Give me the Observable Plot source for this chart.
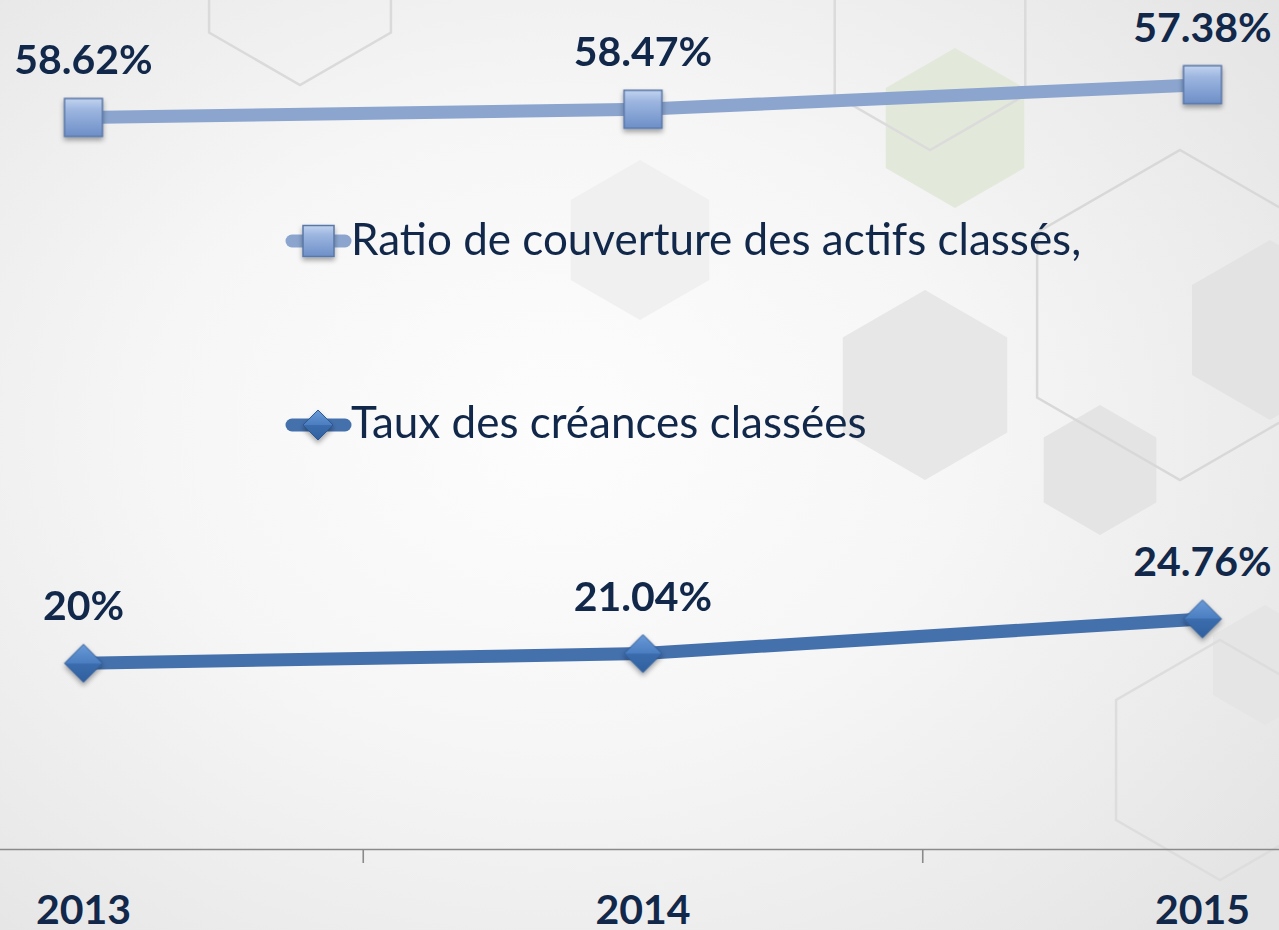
<!DOCTYPE html>
<html>
<head>
<meta charset="utf-8">
<script src="https://cdn.jsdelivr.net/npm/d3@7"></script>
<script src="https://cdn.jsdelivr.net/npm/@observablehq/plot@0.6"></script>
<style>
  html, body { margin: 0; padding: 0; }
  body { width: 1279px; height: 930px; overflow: hidden; font-family: Lato, "Open Sans", sans-serif; }
  #wrap { position: relative; width: 1279px; height: 930px;
    background: radial-gradient(ellipse 900px 700px at 560px 430px, #fdfdfd 0%, #f6f6f6 45%, #ebebeb 80%, #e4e4e4 100%); }
  #bg, #chart, #legend { position: absolute; left: 0; top: 0; }
  #chart svg { background: transparent; }
</style>
</head>
<body>
<div id="wrap">
  <svg id="bg" width="1279" height="930"></svg>
  <div id="chart"></div>
  <svg id="legend" width="1279" height="930"></svg>
</div>
<script>
// ---- data ----
const years = [2013, 2014, 2015];
const seriesNames = ["Taux des créances classées", "Ratio de couverture des actifs classés,"];
const tauxValues = [20, 21.04, 24.76];
const ratioValues = [58.62, 58.47, 57.38];
const yearLabels = ["2013", "2014", "2015"];
const betweenTicks = [2013.5, 2014.5];
const legendOrder = [seriesNames[1], seriesNames[0]];

// ---- styles ----
const textColor = "#12284A";
const lineColors = ["#4470AC", "#8BA5CF"];
const fontFam = "Lato, 'Open Sans', sans-serif";

// table for the library (stacked line chart, input order = stack order)
const rows = [
  ...years.map((y, i) => ({year: y, value: tauxValues[i], series: seriesNames[0]})),
  ...years.map((y, i) => ({year: y, value: ratioValues[i], series: seriesNames[1]}))
];

// ---- decorative background hexagons ----
(function drawBg() {
  const bg = d3.select("#bg");
  const hex = (cx, cy, r) => d3.range(6).map(k => {
    const a = (Math.PI / 180) * (-90 + 60 * k);
    return [cx + r * Math.cos(a), cy + r * Math.sin(a)].join(",");
  }).join(" ");
  const shapes = [
    {c: [640, 240], r: 80, fill: "#f0f0f0", stroke: "none"},
    {c: [955, 128], r: 80, fill: "#e2e8da", stroke: "none"},
    {c: [925, 385], r: 95, fill: "#e7e7e7", stroke: "none"},
    {c: [1100, 470], r: 65, fill: "#e4e4e4", stroke: "none"},
    {c: [1270, 330], r: 90, fill: "#e3e3e3", stroke: "none"},
    {c: [1265, 665], r: 60, fill: "#e5e5e5", stroke: "none"},
    {c: [300, -20], r: 105, fill: "none", stroke: "#dadada"},
    {c: [930, 40], r: 110, fill: "none", stroke: "#dbdbdb"},
    {c: [1180, 315], r: 165, fill: "none", stroke: "#d8d8d8"},
    {c: [1220, 760], r: 120, fill: "none", stroke: "#dddddd"}
  ];
  bg.selectAll("polygon").data(shapes).join("polygon")
    .attr("points", d => hex(d.c[0], d.c[1], d.r))
    .attr("fill", d => d.fill).attr("stroke", d => d.stroke).attr("stroke-width", 2.5);
})();

// ---- defs mark (gradients & shadow) ----
const defsMark = () => {
  const g = document.createElementNS("http://www.w3.org/2000/svg", "g");
  g.innerHTML = `
  <defs>
    <linearGradient id="gSq" x1="0" y1="0" x2="0" y2="1">
      <stop offset="0" stop-color="#C2D4EF"/>
      <stop offset="0.3" stop-color="#9DB6E0"/>
      <stop offset="1" stop-color="#6D8FC8"/>
    </linearGradient>
    <linearGradient id="gDi" x1="0" y1="0" x2="0" y2="1">
      <stop offset="0" stop-color="#6A9AD8"/>
      <stop offset="0.5" stop-color="#4A7EC0"/>
      <stop offset="0.5" stop-color="#3C6DAE"/>
      <stop offset="1" stop-color="#30609E"/>
    </linearGradient>
    <filter id="shadow" x="-50%" y="-50%" width="200%" height="200%">
      <feDropShadow dx="0" dy="3" stdDeviation="2.5" flood-color="#000" flood-opacity="0.35"/>
    </filter>
  </defs>`;
  return g;
};

const stackOpts = {x: "year", y: "value", z: "series"};

const plot = Plot.plot({
  width: 1279,
  height: 930,
  marginLeft: 83,
  marginRight: 77,
  marginTop: 11,
  marginBottom: 81,
  style: {background: "transparent", overflow: "visible"},
  x: {domain: [2013, 2015], label: null},
  y: {domain: [0, 90], axis: null},
  color: {domain: seriesNames, range: lineColors},
  marks: [
    defsMark,
    Plot.ruleY([0], {x1: () => 2012.4, x2: () => 2015.6, stroke: "#8a8a8a", strokeWidth: 1.6}),
    Plot.axisX(betweenTicks, {anchor: "bottom", tickSize: 14, tickFormat: () => "", stroke: "#8a8a8a", strokeWidth: 1.6, label: null}),
    Plot.axisX(years, {anchor: "bottom", tickSize: 0, tickPadding: 45, tickFormat: d => yearLabels[years.indexOf(d)],
      fontSize: 41, fontWeight: 700, color: textColor, fontFamily: fontFam, label: null}),
    Plot.lineY(rows, Plot.stackY2({...stackOpts, stroke: "series", strokeWidth: 13, strokeLinecap: "butt", strokeLinejoin: "round"})),
    Plot.dot(rows, Plot.filter(d => d.series === seriesNames[0],
      Plot.stackY2({...stackOpts, symbol: () => "diamond2", r: 17.1, fill: "url(#gDi)", stroke: "#2E5994", strokeWidth: 1}))),
    Plot.dot(rows, Plot.filter(d => d.series === seriesNames[1],
      Plot.stackY2({...stackOpts, symbol: () => "square", r: 21.4, fill: "url(#gSq)", stroke: "#5A77A6", strokeWidth: 1.5}))),
    Plot.text(rows, Plot.stackY2({...stackOpts, text: d => `${d.value}%`, lineAnchor: "bottom", dy: -43,
      fontSize: 41, fontWeight: 700, fill: textColor, fontFamily: fontFam}))
  ]
});
// drop shadow on the markers
d3.select(plot).selectAll("g[aria-label=dot]").attr("filter", "url(#shadow)");
document.getElementById("chart").appendChild(plot);

// ---- legend (inside plot area, as in the original) ----
(function drawLegend() {
  const lg = d3.select("#legend");
  const entries = legendOrder.map((name, i) => ({name, i, idx: seriesNames.indexOf(name)}));
  const rowsY = [241, 425];
  const g = lg.selectAll("g").data(entries).join("g")
    .attr("transform", d => `translate(0,${rowsY[d.i]})`);
  g.append("line").attr("x1", 292).attr("x2", 345).attr("y1", 0).attr("y2", 0)
    .attr("stroke", d => lineColors[d.idx]).attr("stroke-width", 13).attr("stroke-linecap", "round");
  g.filter(d => d.idx === 1).append("rect")
    .attr("x", 303).attr("y", -15.5).attr("width", 31).attr("height", 31)
    .attr("fill", "url(#gSq)").attr("stroke", "#5A77A6").attr("stroke-width", 1.5)
    .attr("filter", "url(#shadow)");
  g.filter(d => d.idx === 0).append("path")
    .attr("d", "M318,-15L333,0L318,15L303,0Z")
    .attr("fill", "url(#gDi)").attr("stroke", "#2E5994").attr("stroke-width", 1)
    .attr("filter", "url(#shadow)");
  g.append("text").attr("x", 351).attr("y", d => d.idx === 1 ? 14 : 13)
    .attr("fill", textColor).attr("font-size", 44).attr("font-family", fontFam)
    .text(d => d.name);
})();
</script>
</body>
</html>
